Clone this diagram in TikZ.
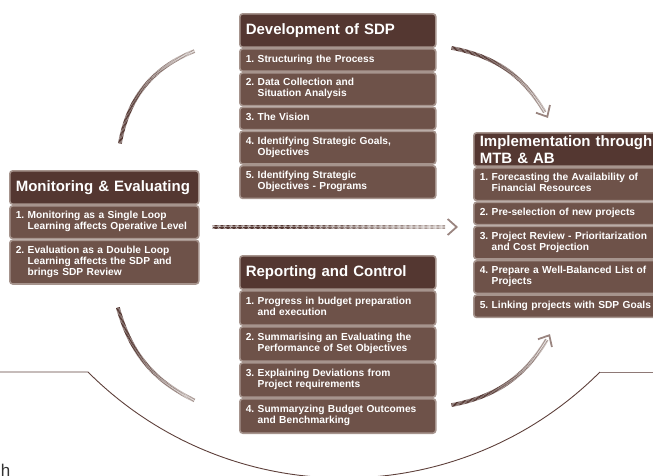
\documentclass[tikz,border=0pt]{standalone}
\usepackage{fontspec}
\setmainfont{Liberation Sans}
\usetikzlibrary{positioning}
\usetikzlibrary{arrows.meta, decorations.markings}
\tikzset{>={Straight Barb[length=9pt,width=16pt,line width=1.8pt]}}

\definecolor{titlebrown}{HTML}{543731}
\definecolor{itembrown}{HTML}{6E5249}
\definecolor{itemedge}{HTML}{A6948D}
\definecolor{arrowdark}{HTML}{553833}
\definecolor{arrowlight}{HTML}{A99994}
\definecolor{tipbrown}{HTML}{9A8580}
\definecolor{rimbrown}{HTML}{5E403B}

\newcommand\titlefont{\fontsize{15}{17}\selectfont\bfseries}
\newcommand\itemfont{\fontsize{10.2}{11}\selectfont\bfseries}
\newlength\entryindent
\newcommand\entry[2]{\settowidth{\entryindent}{#1.\ }\hangindent=\entryindent\hangafter=1\strut#1.\ #2\strut\par}

\begin{document}
\begin{tikzpicture}[x=1pt, y=-1pt, titlebox/.style={fill=titlebrown, draw=itemedge, line width=1.6pt, rounded corners=3pt, text=white, font=\titlefont, align=left, inner xsep=6pt, inner ysep=2pt, minimum height=33.4pt, anchor=north west}, itembox/.style={fill=itembrown, draw=itemedge, line width=1.6pt, rounded corners=3pt, text=white, font=\itemfont, align=left, inner xsep=6pt, inner ysep=5.4pt, minimum height=22.4pt}, fadearrow/.style={decoration={markings, mark=between positions 0 and 0.95 step 1.2pt with {\pgfmathsetmacro\fadefrac{\pgfkeysvalueof{/pgf/decoration/mark info/distance from start}/\pgfdecoratedpathlength}\pgfmathsetmacro\fadepct{max(0,min(100,150-170*\fadefrac))}\pgfmathsetmacro\fadeop{\fadepct/100}\fill[arrowdark!\fadepct!arrowlight] (-0.45pt,0.35pt) rectangle (0.45pt,1.9pt) (-0.45pt,-0.35pt) rectangle (0.45pt,-1.9pt); \fill[arrowdark!\fadepct!arrowlight, opacity=\fadeop] (-0.5pt,-0.5pt) rectangle (0.5pt,0.5pt);}, mark=at position 1 with {\arrow[tipbrown]{>}}}, postaction={decorate}}, rim/.style={rimbrown, line width=0.9pt}]
    \useasboundingbox (0,0) rectangle (653,475);

    %Nodes
    \node[titlebox, text width=184pt](dev) at (239,13){Development of SDP};
    \node[itembox, text width=184pt](dev1)[below=0pt of dev]{\entry{1}{Structuring the Process}};
    \node[itembox, text width=184pt](dev2)[below=0pt of dev1]{\entry{2}{Data Collection and\newline Situation Analysis}};
    \node[itembox, text width=184pt](dev3)[below=0pt of dev2]{\entry{3}{The Vision}};
    \node[itembox, text width=184pt](dev4)[below=0pt of dev3]{\entry{4}{Identifying Strategic Goals,\newline Objectives}};
    \node[itembox, text width=184pt](dev5)[below=0pt of dev4]{\entry{5}{Identifying Strategic\newline Objectives - Programs}};

    \node[titlebox, text width=184pt](impl) at (473,132){Implementation through\newline MTB \& AB};
    \node[itembox, text width=184pt](impl1)[below=0pt of impl]{\entry{1}{Forecasting the Availability of\newline Financial Resources}};
    \node[itembox, text width=184pt](impl2)[below=0pt of impl1]{\entry{2}{Pre-selection of new projects}};
    \node[itembox, text width=184pt](impl3)[below=0pt of impl2]{\entry{3}{Project Review - Prioritarization\newline and Cost Projection}};
    \node[itembox, text width=184pt](impl4)[below=0pt of impl3]{\entry{4}{Prepare a Well-Balanced List of\newline Projects}};
    \node[itembox, text width=184pt](impl5)[below=0pt of impl4]{\entry{5}{Linking projects with SDP Goals}};

    \node[titlebox, text width=177pt](mon) at (9,170){Monitoring~\&~Evaluating};
    \node[itembox, text width=177pt](mon1)[below=0pt of mon]{\entry{1}{Monitoring as a Single Loop\newline Learning affects Operative Level}};
    \node[itembox, text width=177pt](mon2)[below=0pt of mon1]{\entry{2}{Evaluation as a Double Loop\newline Learning affects the SDP and\newline brings SDP Review}};

    \node[titlebox, text width=184pt](rep) at (239,255){Reporting and Control};
    \node[itembox, text width=184pt, inner ysep=6.2pt](rep1)[below=0pt of rep]{\entry{1}{Progress in budget preparation\newline and execution}};
    \node[itembox, text width=184pt, inner ysep=6.2pt](rep2)[below=0pt of rep1]{\entry{2}{Summarising an Evaluating the\newline Performance of Set Objectives}};
    \node[itembox, text width=184pt, inner ysep=6.2pt](rep3)[below=0pt of rep2]{\entry{3}{Explaining Deviations from\newline Project requirements}};
    \node[itembox, text width=184pt, inner ysep=6.2pt](rep4)[below=0pt of rep3]{\entry{4}{Summaryzing Budget Outcomes\newline and Benchmarking}};

    \node[font=\fontsize{17}{17}\selectfont, text=black!80, inner sep=0pt, anchor=base west](cut) at (0.8,476){h};

    %Arrow ends
    \coordinate (monup) at (120,143);
    \coordinate (devin) at (200,49);
    \coordinate (devout) at (452,48);
    \coordinate (implin) at (548,118);
    \coordinate (monout) at (213,227);
    \coordinate (implmid) at (458,227);
    \coordinate (mondown) at (118,308);
    \coordinate (repin) at (200,403);
    \coordinate (repout) at (452,405);
    \coordinate (implbot) at (550,334);

    %Lines
    \path[fadearrow] (monup) to[bend left=30] (devin);
    \path[fadearrow] (devout) to[bend left=25] (implin);
    \path[fadearrow] (monout) -- (implmid);
    \path[fadearrow] (mondown) to[bend right=25] (repin);
    \path[fadearrow] (repout) to[bend right=25] (implbot);

    %Rim
    \coordinate (rimleft) at (0,372);
    \coordinate (rimright) at (653,372);
    \draw[rim] (rimleft) -- (88,372) arc[start angle=135, end angle=45, radius=362] coordinate (rimend);
    \draw[rim, rimbrown!70] (rimend) -- (rimright);

\end{tikzpicture}
\end{document}
